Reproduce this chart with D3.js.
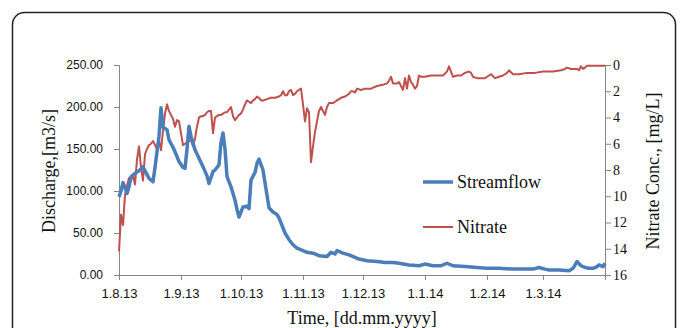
<!DOCTYPE html>
<html>
<head>
<meta charset="utf-8">
<script src="https://cdn.jsdelivr.net/npm/d3@7"></script>
<style>
  body { margin: 0; background: #fff; }
  svg { display: block; }
</style>
</head>
<body>
<div id="chart"></div>
<script>
// streamflow, m3/s
const flowDates = [
  '2013-08-01','2013-08-02','2013-08-03','2013-08-04','2013-08-05','2013-08-06','2013-08-07','2013-08-09',
  '2013-08-11','2013-08-13','2013-08-14','2013-08-16','2013-08-18','2013-08-19','2013-08-21','2013-08-22',
  '2013-08-23','2013-08-25','2013-08-26','2013-08-28','2013-08-30','2013-08-31','2013-09-02','2013-09-03',
  '2013-09-04','2013-09-05','2013-09-06','2013-09-08','2013-09-10','2013-09-12','2013-09-14','2013-09-15',
  '2013-09-17','2013-09-18','2013-09-20','2013-09-21','2013-09-22','2013-09-23','2013-09-24','2013-09-26',
  '2013-09-28','2013-09-29','2013-09-30','2013-10-02','2013-10-04','2013-10-05','2013-10-06','2013-10-08',
  '2013-10-09','2013-10-10','2013-10-12','2013-10-14','2013-10-15','2013-10-17','2013-10-19','2013-10-20',
  '2013-10-23','2013-10-25','2013-10-27','2013-10-29','2013-11-01','2013-11-03','2013-11-06','2013-11-09',
  '2013-11-13','2013-11-15','2013-11-17','2013-11-18','2013-11-21','2013-11-24','2013-11-27','2013-11-29',
  '2013-12-03','2013-12-08','2013-12-12','2013-12-16','2013-12-19','2013-12-24','2013-12-29','2014-01-01',
  '2014-01-05','2014-01-09','2014-01-12','2014-01-15','2014-01-21','2014-01-27','2014-02-01','2014-02-07',
  '2014-02-14','2014-02-20','2014-02-24','2014-02-27','2014-03-02','2014-03-04','2014-03-09','2014-03-14',
  '2014-03-16','2014-03-18','2014-03-20','2014-03-22','2014-03-24','2014-03-26','2014-03-28','2014-03-29',
  '2014-03-31','2014-04-01'
];
const flowValues = [
  93, 100, 110, 104, 97, 105, 117, 121,
  124, 129, 124, 115, 111, 128, 165, 199,
  176, 173, 161, 152, 141, 135, 128, 127,
  150, 177, 165, 149, 139, 129, 118, 109,
  123, 125, 131, 158, 169, 150, 117, 105,
  89, 78, 69, 81, 82, 79, 113, 122,
  133, 138, 125, 95, 80, 75, 72, 68,
  50, 42, 36, 32, 29, 27, 26, 23,
  22, 27, 25, 29, 26, 24, 21, 19,
  17, 16, 15, 15, 14, 12, 11, 13,
  11, 11, 14, 11, 10, 9, 8, 8,
  7, 7, 7, 9, 7, 6, 6, 5,
  8, 16, 11, 9, 8, 8, 10, 12,
  10, 14
];

// nitrate concentration, mg/L
const nitrateDates = [
  '2013-08-01','2013-08-02','2013-08-03','2013-08-04','2013-08-05','2013-08-06','2013-08-07','2013-08-08',
  '2013-08-09','2013-08-10','2013-08-11','2013-08-12','2013-08-13','2013-08-14','2013-08-15','2013-08-16',
  '2013-08-17','2013-08-18','2013-08-19','2013-08-20','2013-08-21','2013-08-22','2013-08-23','2013-08-24',
  '2013-08-25','2013-08-26','2013-08-27','2013-08-28','2013-08-29','2013-08-30','2013-08-31','2013-09-01',
  '2013-09-02','2013-09-03','2013-09-04','2013-09-05','2013-09-06','2013-09-07','2013-09-08','2013-09-09',
  '2013-09-10','2013-09-11','2013-09-12','2013-09-13','2013-09-14','2013-09-15','2013-09-16','2013-09-17',
  '2013-09-18','2013-09-19','2013-09-20','2013-09-21','2013-09-22','2013-09-23','2013-09-24','2013-09-25',
  '2013-09-26','2013-09-27','2013-09-28','2013-09-29','2013-09-30','2013-10-01','2013-10-02','2013-10-03',
  '2013-10-04','2013-10-05','2013-10-06','2013-10-07','2013-10-08','2013-10-09','2013-10-10','2013-10-11',
  '2013-10-12','2013-10-14','2013-10-16','2013-10-18','2013-10-20','2013-10-21','2013-10-22','2013-10-23',
  '2013-10-24','2013-10-25','2013-10-26','2013-10-27','2013-10-28','2013-10-29','2013-10-30','2013-10-31',
  '2013-11-01','2013-11-02','2013-11-03','2013-11-04','2013-11-05','2013-11-06','2013-11-07','2013-11-08',
  '2013-11-09','2013-11-10','2013-11-11','2013-11-12','2013-11-13','2013-11-14','2013-11-15','2013-11-16',
  '2013-11-17','2013-11-18','2013-11-20','2013-11-22','2013-11-24','2013-11-25','2013-11-26','2013-11-27',
  '2013-11-28','2013-11-30','2013-12-02','2013-12-05','2013-12-08','2013-12-11','2013-12-13','2013-12-14',
  '2013-12-15','2013-12-16','2013-12-17','2013-12-18','2013-12-19','2013-12-20','2013-12-21','2013-12-22',
  '2013-12-23','2013-12-24','2013-12-25','2013-12-26','2013-12-27','2013-12-28','2013-12-29','2013-12-30',
  '2014-01-01','2014-01-04','2014-01-08','2014-01-10','2014-01-12','2014-01-13','2014-01-14','2014-01-15',
  '2014-01-17','2014-01-19','2014-01-21','2014-01-23','2014-01-24','2014-01-25','2014-01-27','2014-01-29',
  '2014-01-31','2014-02-02','2014-02-03','2014-02-05','2014-02-07','2014-02-09','2014-02-11','2014-02-12',
  '2014-02-14','2014-02-17','2014-02-21','2014-02-25','2014-03-01','2014-03-06','2014-03-10','2014-03-12',
  '2014-03-13','2014-03-15','2014-03-17','2014-03-18','2014-03-19','2014-03-20','2014-03-21','2014-03-22',
  '2014-03-23','2014-03-27','2014-04-01'
];
const nitrateValues = [
  14.2, 11.4, 12.2, 9.9, 9.2, 8.6, 8.8, 8.4,
  9.1, 7.2, 6.2, 7.8, 8.8, 6.8, 6.4, 6.1,
  6.0, 5.8, 6.1, 6.4, 5.7, 6.5, 5.0, 3.7,
  3.0, 3.5, 3.8, 4.1, 4.7, 4.2, 4.3, 5.2,
  6.1, 6.0, 5.9, 5.8, 5.7, 6.2, 5.6, 4.7,
  4.0, 3.9, 3.9, 3.8, 3.6, 3.5, 3.5, 5.2,
  4.0, 3.9, 3.8, 3.8, 3.7, 3.6, 3.6, 3.4,
  3.2, 3.9, 4.2, 4.0, 3.8, 3.7, 3.4, 3.0,
  2.7, 2.8, 2.9, 2.7, 2.6, 2.4, 2.5, 2.7,
  2.7, 2.6, 2.5, 2.5, 2.4, 2.3, 2.0, 2.3,
  2.3, 2.0, 1.9, 2.3, 2.2, 2.0, 1.9, 1.8,
  3.0, 4.3, 3.3, 3.6, 7.4, 6.2, 5.1, 4.3,
  3.5, 3.2, 3.5, 3.8, 3.2, 2.9, 2.9, 2.9,
  2.8, 2.7, 2.5, 2.4, 2.2, 2.0, 2.0, 2.1,
  1.8, 1.9, 1.8, 1.8, 1.6, 1.5, 1.4, 1.2,
  0.9, 1.4, 1.4, 1.4, 1.3, 1.6, 1.9, 1.0,
  1.8, 0.8, 1.3, 1.5, 1.8, 1.6, 0.8, 0.9,
  0.9, 0.8, 0.8, 0.8, 0.5, 0.1, 0.5, 0.9,
  0.8, 0.8, 0.6, 0.5, 0.6, 0.9, 1.0, 1.0,
  1.0, 0.8, 0.7, 1.0, 0.9, 0.8, 0.6, 0.4,
  0.7, 0.7, 0.6, 0.6, 0.5, 0.5, 0.4, 0.3,
  0.2, 0.3, 0.3, 0.3, 0.4, 0.1, 0.3, 0.2,
  0.05, 0.05, 0.05
];

const xTicks = ['2013-08-01','2013-09-01','2013-10-01','2013-11-01','2013-12-01','2014-01-01','2014-02-01','2014-03-01','2014-04-01'];
const flowTicks = [0, 50, 100, 150, 200, 250];
const nitrateTicks = [0, 2, 4, 6, 8, 10, 12, 14, 16];

const width = 683;
const height = 328;
const plotL = 119, plotR = 605, plotT = 65, plotB = 275;
const parse = d3.timeParse('%Y-%m-%d');

const flow = flowDates.map((d, i) => ({date: parse(d), value: flowValues[i]}));
const nitrate = nitrateDates.map((d, i) => ({date: parse(d), value: nitrateValues[i]}));

const svg = d3.select('#chart')
  .append('svg')
  .attr('width', width).attr('height', height);

// frame around the figure
svg.append('rect')
  .attr('x', 12.5).attr('y', 12.5)
  .attr('width', 663).attr('height', 340)
  .attr('rx', 12)
  .attr('fill', 'none')
  .attr('stroke', '#222')
  .attr('stroke-width', 1.5);

const x = d3.scaleTime()
  .domain([parse('2013-08-01'), parse('2014-04-01')])
  .range([plotL, plotR]);
const yFlow = d3.scaleLinear().domain([0, 250]).range([plotB, plotT]);
const yNit = d3.scaleLinear().domain([0, 16]).range([plotT, plotB]);

const fmt = d => d.getMonth() === 3 ? '' :
  d.getDate() + '.' + (d.getMonth() + 1) + '.' + String(d.getFullYear()).slice(2);

const xAxis = svg.append('g')
  .attr('transform', 'translate(0,' + plotB + ')')
  .call(d3.axisBottom(x).tickValues(xTicks.map(parse)).tickFormat(fmt).tickSize(5).tickPadding(9));

const lAxis = svg.append('g')
  .attr('transform', 'translate(' + plotL + ',0)')
  .call(d3.axisLeft(yFlow).tickValues(flowTicks).tickFormat(d3.format('.2f')).tickSize(5).tickPadding(11));

const rAxis = svg.append('g')
  .attr('transform', 'translate(' + plotR + ',0)')
  .call(d3.axisRight(yNit).tickValues(nitrateTicks).tickSize(6).tickPadding(2));

[xAxis, lAxis, rAxis].forEach(a => {
  a.select('.domain').attr('stroke', '#868686');
  a.selectAll('.tick line').attr('stroke', '#868686');
  a.selectAll('text').attr('fill', '#111');
});
xAxis.selectAll('text').attr('font-family', '"Liberation Sans", Arial, sans-serif').attr('font-size', 13);
lAxis.selectAll('text').attr('font-family', '"Liberation Sans", Arial, sans-serif').attr('font-size', 12);
rAxis.selectAll('text').attr('font-family', '"Liberation Serif", "Times New Roman", serif').attr('font-size', 14);

const flowLine = d3.line().x(d => x(d.date)).y(d => yFlow(d.value));
const nitLine = d3.line().x(d => x(d.date)).y(d => yNit(d.value));

svg.append('path')
  .datum(nitrate)
  .attr('d', nitLine)
  .attr('fill', 'none')
  .attr('stroke', '#c0504d')
  .attr('stroke-width', 2)
  .attr('stroke-linejoin', 'round');

svg.append('path')
  .datum(flow)
  .attr('d', flowLine)
  .attr('fill', 'none')
  .attr('stroke', '#4a7ebb')
  .attr('stroke-width', 3.5)
  .attr('stroke-linejoin', 'round');

// legend
const serif = '"Liberation Serif", "Times New Roman", serif';
const legend = [
  {name: 'Streamflow', color: '#4a7ebb', w: 3.5, y: 182},
  {name: 'Nitrate', color: '#c0504d', w: 2, y: 227}
];
legend.forEach(l => {
  svg.append('line')
    .attr('x1', 423).attr('x2', 453)
    .attr('y1', l.y).attr('y2', l.y)
    .attr('stroke', l.color).attr('stroke-width', l.w);
  svg.append('text')
    .attr('x', 457).attr('y', l.y + 6)
    .attr('font-family', serif).attr('font-size', 18)
    .attr('fill', '#111')
    .text(l.name);
});

// axis titles
svg.append('text')
  .attr('transform', 'translate(55,171) rotate(-90)')
  .attr('text-anchor', 'middle')
  .attr('font-family', serif).attr('font-size', 18).attr('fill', '#111')
  .text('Discharge,[m3/s]');

svg.append('text')
  .attr('transform', 'translate(659,171) rotate(-90)')
  .attr('text-anchor', 'middle')
  .attr('font-family', serif).attr('font-size', 18).attr('fill', '#111')
  .text('Nitrate Conc., [mg/L]');

svg.append('text')
  .attr('x', 362).attr('y', 324)
  .attr('text-anchor', 'middle')
  .attr('font-family', serif).attr('font-size', 18).attr('fill', '#111')
  .text('Time, [dd.mm.yyyy]');
</script>
</body>
</html>
